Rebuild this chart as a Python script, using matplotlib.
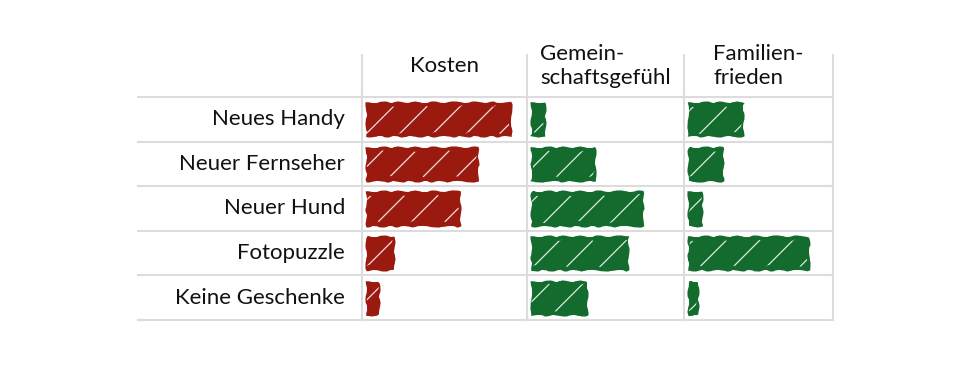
import numpy as np
import matplotlib.pyplot as plt
from matplotlib.lines import Line2D

plt.rcParams['font.family'] = ['Lato', 'DejaVu Sans']
plt.rcParams['hatch.linewidth'] = 0.9

# rows and columns of the table
rows = ['Neues Handy', 'Neuer Fernseher', 'Neuer Hund', 'Fotopuzzle', 'Keine Geschenke']
columns = ['Kosten', 'Gemein-\nschaftsgefühl', 'Familien-\nfrieden']

# scores (0..10)
kosten = [9.5, 7.3, 6.1, 1.7, 0.7]
gemeinschaft = [0.8, 4.1, 7.3, 6.3, 3.6]
familienfrieden = [3.5, 2.2, 0.8, 7.9, 0.5]
values = [kosten, gemeinschaft, familienfrieden]

red = '#9b1a10'
green = '#136b2d'
col_colors = [red, green, green]
grid_color = '#dcdcdc'

W, H = 966, 372
fig = plt.figure(figsize=(W / 100, H / 100), dpi=100)

# column edges in pixels
col_edges = [362, 527, 684, 833]
top_px, bottom_px = 97, 320
label_left_px = 138
header_top_px = 55
px_per_unit = 15.0

def fx(px):
    return px / W

def fy(px):
    return 1 - px / H

n = len(rows)
y = np.arange(n)

for i, (vals, color) in enumerate(zip(values, col_colors)):
    x0, x1 = col_edges[i], col_edges[i + 1]
    ax = fig.add_axes([fx(x0), fy(bottom_px), fx(x1 - x0), fy(top_px) - fy(bottom_px)])
    ax.set_facecolor('none')
    ax.set_ylim(n - 0.5, -0.5)
    pad = 5 / px_per_unit
    ax.set_xlim(-pad, (x1 - x0) / px_per_unit - pad)
    bars = ax.barh(y, vals, height=0.72, color=color, edgecolor=color, linewidth=1.8)
    for b in bars:
        b.set_sketch_params(scale=0.8, length=25, randomness=4)
    # white scribble gaps
    over = ax.barh(y, vals, height=0.6, facecolor='none', edgecolor='white',
                   hatch='/', linewidth=0, alpha=0.85)
    for b in over:
        b.set_sketch_params(scale=1.0, length=20, randomness=6)
    ax.set_xticks([])
    ax.set_yticks([])
    for s in ax.spines.values():
        s.set_visible(False)

    cx = (x0 + x1) / 2
    fig.text(fx(cx), fy(66), columns[i], ha='center', va='center',
             multialignment='left', fontsize=16, color='#111111', linespacing=1.3)

# row labels
row_h = (bottom_px - top_px) / n
for j, name in enumerate(rows):
    fig.text(fx(345), fy(top_px + (j + 0.5) * row_h), name, ha='right', va='center',
             fontsize=16, color='#111111')

# table grid
for j in range(n + 1):
    yy = fy(top_px + j * row_h)
    fig.add_artist(Line2D([fx(label_left_px), fx(col_edges[-1])], [yy, yy],
                          color=grid_color, lw=1.5))
for xe in col_edges:
    fig.add_artist(Line2D([fx(xe), fx(xe)], [fy(header_top_px), fy(bottom_px)],
                          color=grid_color, lw=1.5))

fig.savefig('out.png', dpi=100, facecolor='white')
